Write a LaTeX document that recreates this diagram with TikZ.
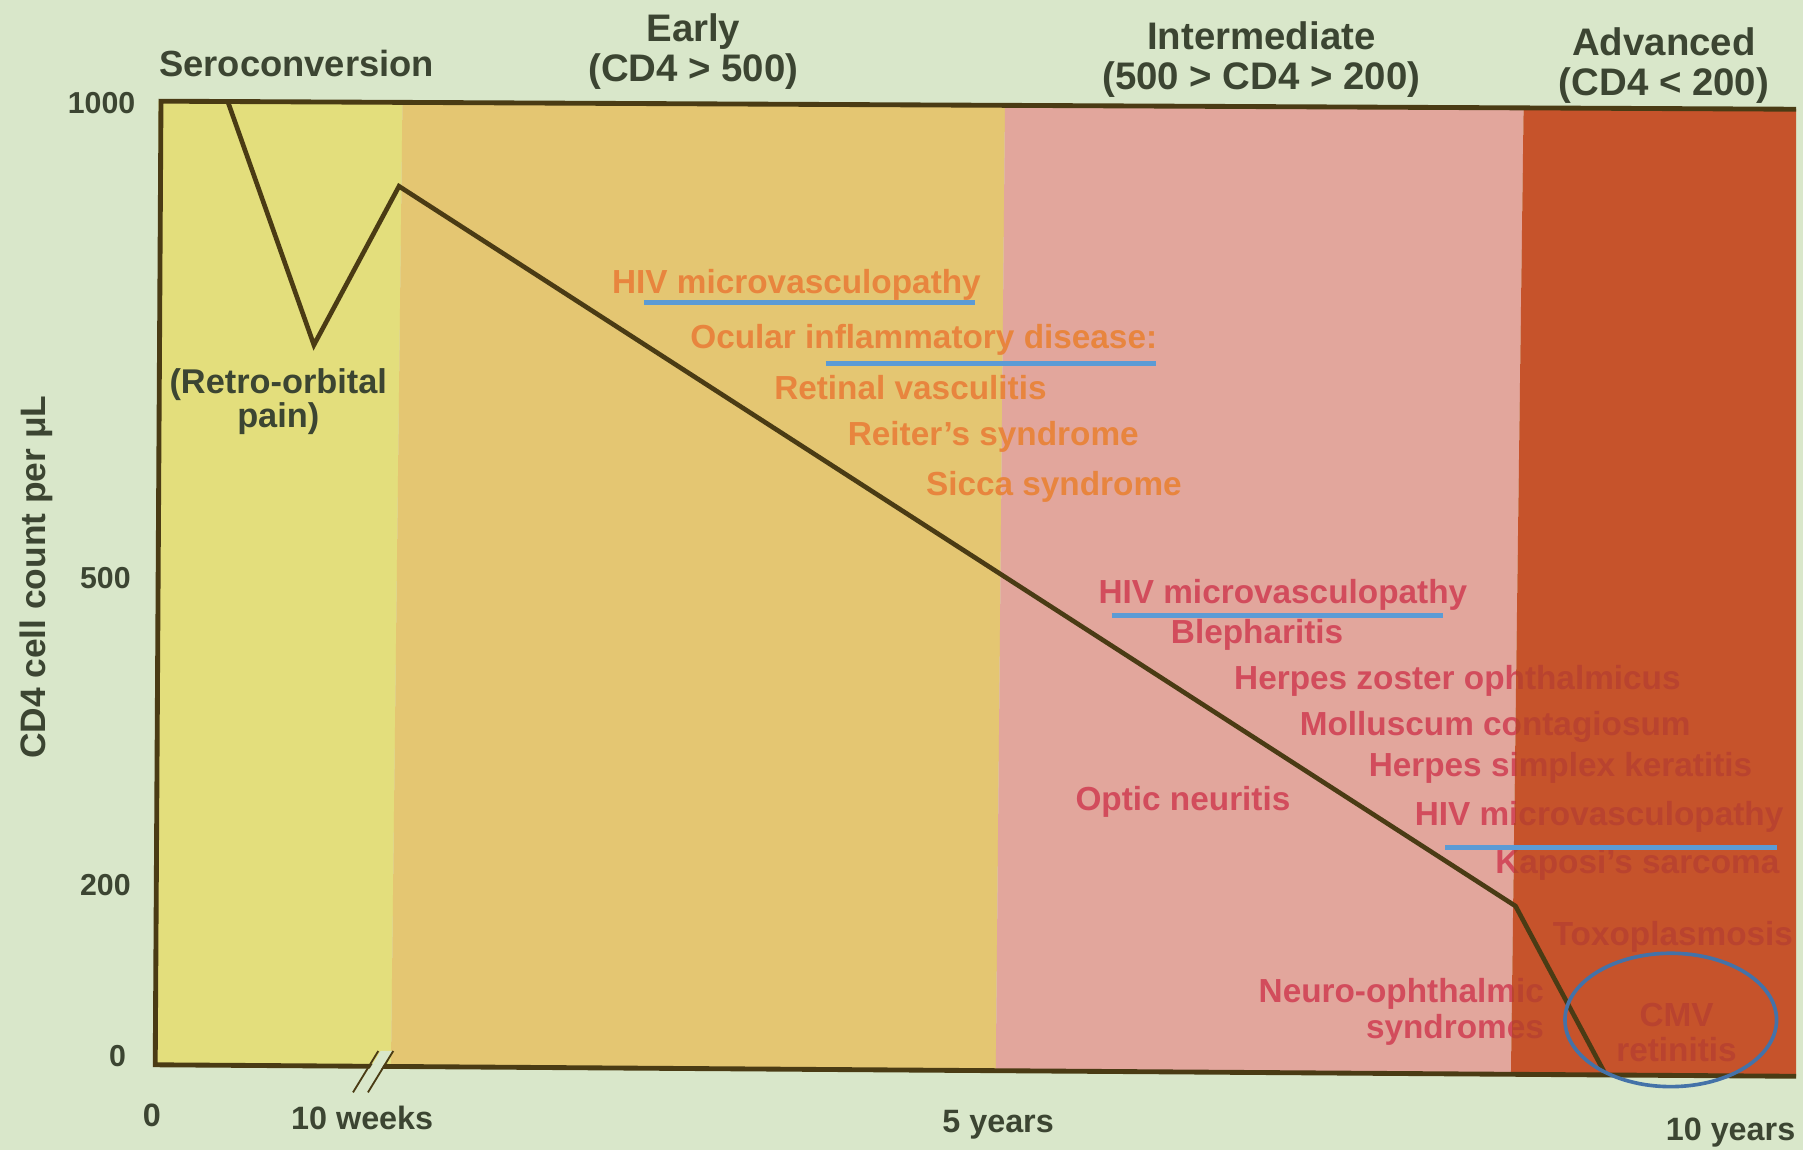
\documentclass[tikz,border=0pt]{standalone}
\usepackage{fontspec}
\setmainfont{Liberation Sans}
\definecolor{bgc}{HTML}{D9E7CA}
\definecolor{seroc}{HTML}{E3DE7C}
\definecolor{earlyc}{HTML}{E4C672}
\definecolor{interc}{HTML}{E2A69C}
\definecolor{advc}{HTML}{C6532B}
\definecolor{orangetxt}{HTML}{E8853E}
\definecolor{redtxt}{HTML}{D24C5C}
\definecolor{dimtxt}{HTML}{B9432F}
\definecolor{curvec}{HTML}{4A3B14}
\definecolor{axtxt}{HTML}{3C4532}
\definecolor{bluel}{HTML}{5B9BD5}
\definecolor{bluee}{HTML}{4472A8}
\tikzset{
  lbl/.style={font=\fontsize{16.5}{18}\selectfont\bfseries, inner sep=0pt, anchor=west},
  ol/.style={lbl, text=orangetxt},
  rl/.style={lbl, text=redtxt},
  head/.style={font=\fontsize{19}{21}\selectfont\bfseries, text=axtxt, inner sep=0pt},
  tick/.style={font=\fontsize{16}{18}\selectfont\bfseries, text=axtxt, inner sep=0pt},
  ytick/.style={font=\fontsize{15}{17}\selectfont\bfseries, text=axtxt, inner sep=0pt, anchor=east},
  mark line/.style={line width=2.3pt, draw=bluel},
}
\newcommand\redtexts[1]{%
  \node[rl] (#1a) at (955,517) {HIV microvasculopathy};
  \node[rl] (#1b) at (1018,552) {Blepharitis};
  \node[rl] (#1c) at (1073,592) {Herpes zoster ophthalmicus};
  \node[rl] (#1d) at (1130,632) {Molluscum contagiosum};
  \node[rl] (#1e) at (1190,668) {Herpes simplex keratitis};
  \node[rl] (#1f) at (935,697) {Optic neuritis};
  \node[rl] (#1g) at (1230,710) {HIV microvasculopathy};
  \node[rl] (#1h) at (1300,752) {Kaposi's sarcoma};
  \node[rl] (#1i) at (1350,815) {Toxoplasmosis};
  \node[rl, anchor=east, align=right, font=\fontsize{16.5}{17.5}\selectfont\bfseries] (#1j) at (1343,880) {Neuro-ophthalmic\\syndromes};
}
\begin{document}
\begin{tikzpicture}[x=0.02cm, y=-0.02cm]
\fill[bgc] (0,0) rectangle (1568,1000);
\useasboundingbox (0,0) rectangle (1568,1000);
% bands
\fill[seroc] (138,88) -- (350,89) -- (340,927) -- (136,926) -- cycle;
\fill[earlyc] (350,89) -- (874,91.6) -- (866,931) -- (340,927) -- cycle;
\fill[interc] (874,91.6) -- (1325,94) -- (1314,934) -- (866,931) -- cycle;
\fill[advc] (1325,94) -- (1562,95) -- (1562,936) -- (1314,934) -- cycle;
% red labels, normal part and dimmed part over advanced band
\begin{scope}
  \clip (0,0) -- (1325,0) -- (1325,94) -- (1314,934) -- (1314,1000) -- (0,1000) -- cycle;
  \redtexts{r}
\end{scope}
\begin{scope}[rl/.append style={text=dimtxt}]
  \clip (1325,0) -- (1568,0) -- (1568,1000) -- (1314,1000) -- (1314,934) -- (1325,94) -- cycle;
  \redtexts{d}
\end{scope}
\node[rl, text=dimtxt, anchor=center, align=center, font=\fontsize{16.5}{17.5}\selectfont\bfseries] (cmv) at (1458,898) {CMV\\retinitis};
% orange labels
\node[ol] (o1) at (532,248) {HIV microvasculopathy};
\node[ol] (o2) at (600,296) {Ocular inflammatory disease:};
\node[ol] (o3) at (673,337) {Retinal vasculitis};
\node[ol] (o4) at (737,380) {Reiter's syndrome};
\node[ol] (o5) at (805,423) {Sicca syndrome};
% frame
\draw[curvec, line width=2.4pt, line join=miter] (1562,95) -- (140,88) -- (135,926) -- (1562,936);
% axis break
\fill[bgc] (309,950) -- (319,950) -- (341,914) -- (331,914) -- cycle;
\draw[curvec, line width=0.9pt] (307,950) -- (329,914) (320,950) -- (342,914);
% curve
\coordinate (c0) at (198,88);
\coordinate (c1) at (273,300);
\coordinate (c2) at (347,162);
\coordinate (c3) at (1318,788);
\coordinate (c4) at (1395,932);
\draw[curvec, line width=2.3pt, line join=miter] (c0) -- (c1) -- (c2) -- (c3) -- (c4);
% headers
\node[head, font=\fontsize{18}{21}\selectfont\bfseries] (sero) at (258,55) {Seroconversion};
\node[head, align=center, font=\fontsize{19}{20}\selectfont\bfseries] (early) at (603,45) {Early\\(CD4 > 500)};
\node[head, align=center, font=\fontsize{19}{20}\selectfont\bfseries] (inter) at (1097,52) {Intermediate\\(500 > CD4 > 200)};
\node[head, align=center, font=\fontsize{19}{20}\selectfont\bfseries] (adv) at (1447,57) {Advanced\\(CD4 < 200)};
% retro-orbital
\node[head, align=center, font=\fontsize{17}{15.5}\selectfont\bfseries] (retro) at (242,349) {(Retro-orbital\\pain)};
% y ticks
\node[ytick] (y1000) at (118,90) {1000};
\node[ytick] (y500) at (114,503) {500};
\node[ytick] (y200) at (114,770) {200};
\node[ytick] (y0) at (110,918) {0};
% x ticks
\node[tick] (x0) at (132,970) {0};
\node[tick] (x10w) at (315,972) {10 weeks};
\node[tick] (x5y) at (868,978) {5 years};
\node[tick] (x10y) at (1505,985) {10 years};
% y axis label
\node[font=\fontsize{17.5}{20}\selectfont\bfseries, text=axtxt, rotate=90, inner sep=0pt] (ylab) at (32,502) {CD4 cell count per μL};
% blue annotations
\draw[mark line] (560,263) -- (848,263);
\draw[mark line] (718,316) -- (1005,316);
\draw[mark line] (967,535) -- (1255,535);
\draw[mark line] (1257,737) -- (1545,737);
\draw[bluee, line width=1.8pt] (1453,887) ellipse [x radius=92, y radius=58];
\end{tikzpicture}
\end{document}
